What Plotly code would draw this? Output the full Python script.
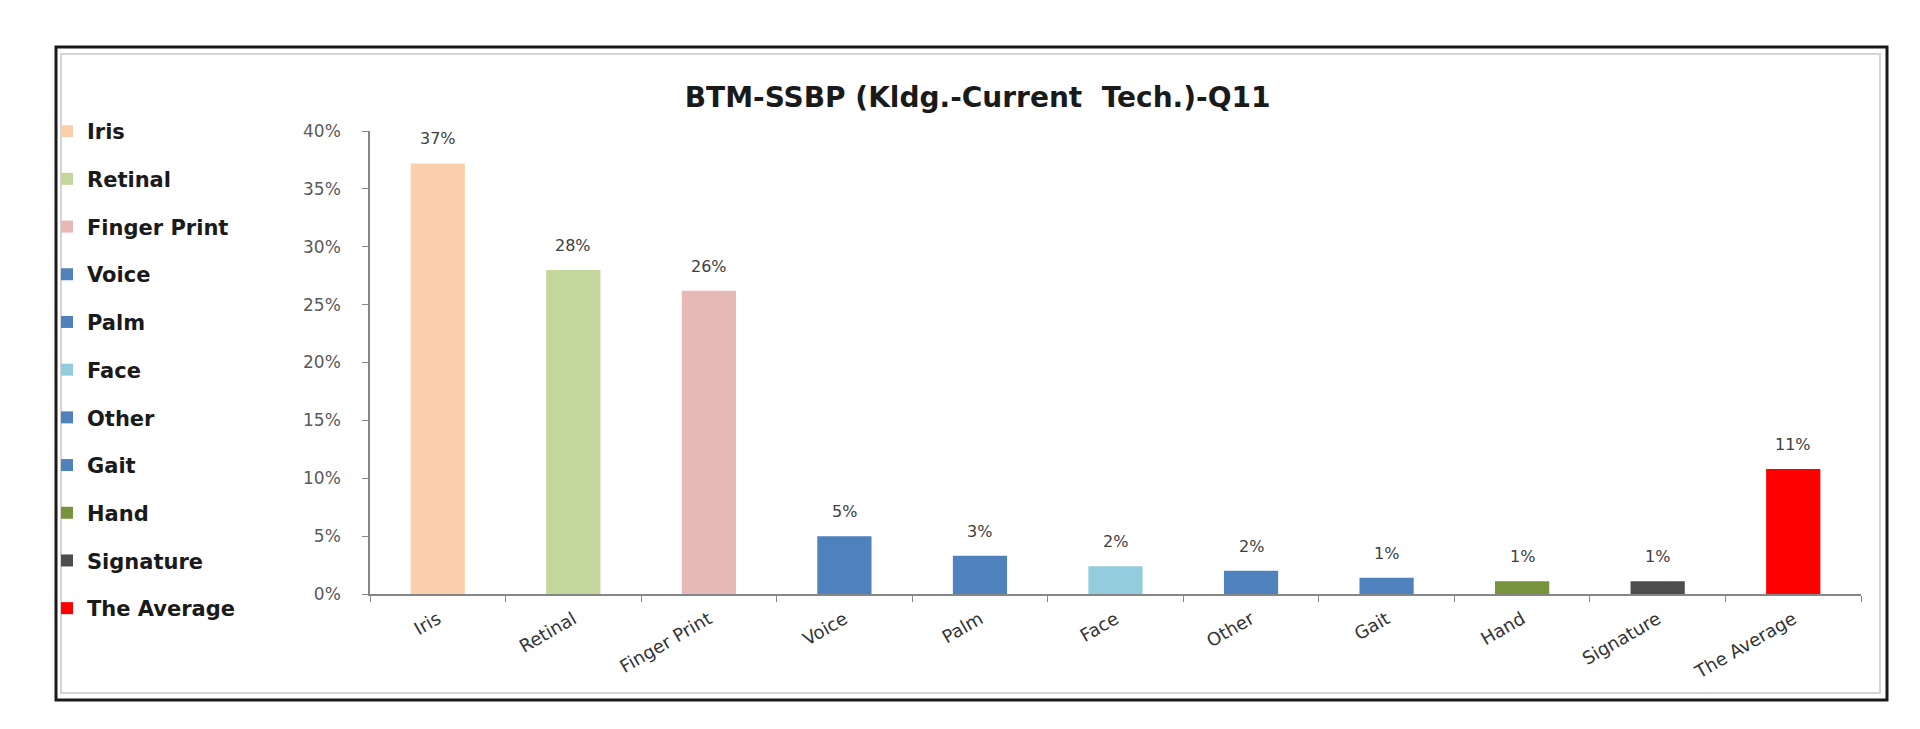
import plotly.graph_objects as go

categories = ["Iris", "Retinal", "Finger Print", "Voice", "Palm", "Face",
              "Other", "Gait", "Hand", "Signature", "The Average"]
values = [0.372, 0.280, 0.262, 0.050, 0.033, 0.024, 0.020, 0.014, 0.011, 0.011, 0.108]
colors = ["#FAD0AC", "#C3D69B", "#E6B9B8", "#4F81BD", "#4F81BD", "#93CDDD",
          "#4F81BD", "#4F81BD", "#77933C", "#4D4D4D", "#FF0000"]
title_text = "BTM-SSBP (Kldg.-Current  Tech.)-Q11"
y_ticks = [0, 0.05, 0.10, 0.15, 0.20, 0.25, 0.30, 0.35, 0.40]

W, H = 1920, 729
L, R, T, B = 362, 1853, 123, 586  # plot-area pixel bounds

FONT = "DejaVu Sans"

fig = go.Figure()
for i, (c, v, col) in enumerate(zip(categories, values, colors)):
    fig.add_trace(go.Bar(
        x=[c], y=[v], name=c, marker=dict(color=col, line=dict(width=0)),
        width=0.4, legendgroup=c, showlegend=True,
    ))

annotations = []
for c, v in zip(categories, values):
    annotations.append(dict(
        x=c, y=v, xref="x", yref="y", text=f"{round(v*100)}%",
        showarrow=False, yanchor="bottom", yshift=13,
        font=dict(family=FONT, size=16, color="#404040"),
    ))

def px_x(p):
    return (p - L) / (R - L)

def px_y(p):
    return (B - p) / (B - T)

shapes = [
    dict(type="rect", xref="paper", yref="paper",
         x0=px_x(48), x1=px_x(1879), y0=px_y(692), y1=px_y(39),
         line=dict(color="#1a1a1a", width=3), layer="below"),
    dict(type="rect", xref="paper", yref="paper",
         x0=px_x(53), x1=px_x(1872), y0=px_y(685), y1=px_y(46),
         line=dict(color="#d4d4d4", width=2), layer="below"),
]

fig.update_layout(
    width=W, height=H,
    margin=dict(l=L, r=W - R, t=T, b=H - B, autoexpand=False),
    paper_bgcolor="white", plot_bgcolor="white",
    barmode="relative",
    title=dict(text="<b>" + title_text + "</b>", x=0.505, xanchor="center",
               y=1 - 89 / H, yanchor="middle",
               font=dict(family=FONT, size=28, color="#1a1a1a")),
    legend=dict(x=px_x(39), xanchor="left", y=px_y(103), yanchor="top",
                font=dict(family=FONT, size=21, color="#1a1a1a", weight="bold"),
                tracegroupgap=17.4, itemwidth=30, bgcolor="rgba(0,0,0,0)",
                maxheight=650),
    xaxis=dict(showgrid=False, showline=True, linecolor="#868686", linewidth=1.5,
               ticks="outside", tickson="boundaries", ticklen=6, tickcolor="#868686",
               tickangle=-30, ticklabelstandoff=6,
               tickfont=dict(family=FONT, size=18, color="#333333"),
               categoryorder="array", categoryarray=categories),
    yaxis=dict(range=[0, 0.4], tickvals=y_ticks, tickformat=".0%",
               showgrid=False, zeroline=False, showline=True, linecolor="#868686",
               linewidth=1.5, ticks="outside", ticklen=6, tickcolor="#868686",
               ticklabelstandoff=18,
               tickfont=dict(family=FONT, size=17, color="#595959")),
    annotations=annotations,
    shapes=shapes,
)

fig.write_html("out.html")
